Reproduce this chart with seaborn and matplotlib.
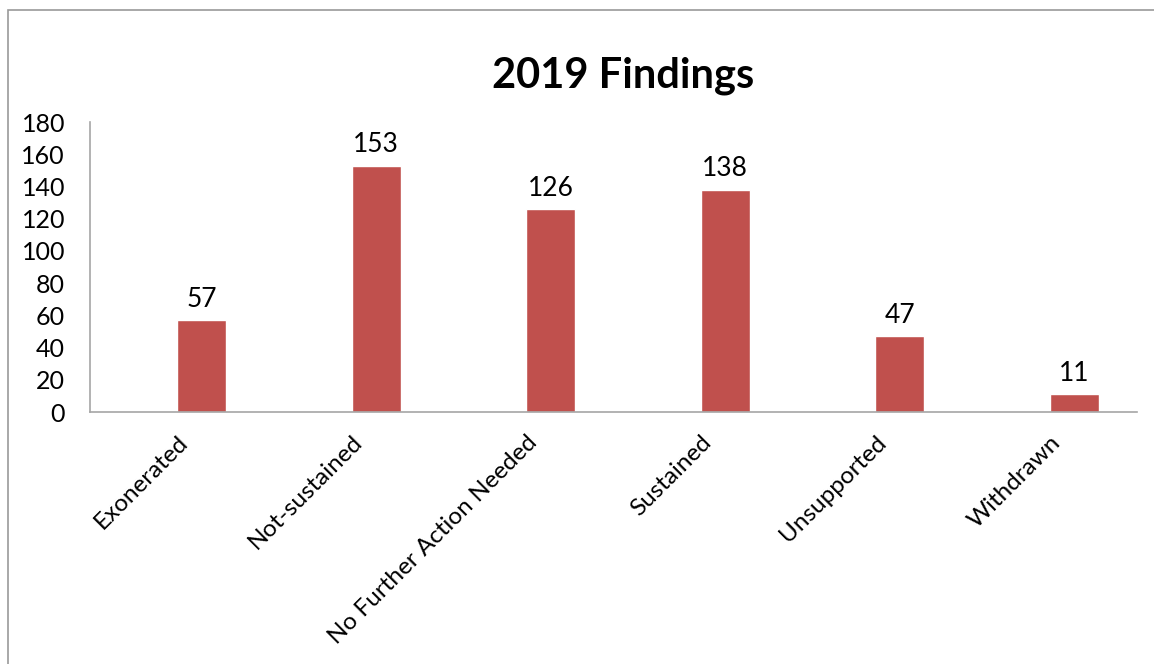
import matplotlib
matplotlib.use("Agg")
import matplotlib.pyplot as plt
from matplotlib.patches import Rectangle
import pandas as pd
import seaborn as sns

# Chart data
categories = ["Exonerated", "Not-sustained", "No Further Action Needed",
              "Sustained", "Unsupported", "Withdrawn"]
counts = [57, 153, 126, 138, 47, 11]
series_name = "2019"
y_ticks = [0, 20, 40, 60, 80, 100, 120, 140, 160, 180]

sns.set_style("white")
plt.rcParams['font.family'] = ['Lato', 'DejaVu Sans']
plt.rcParams['text.color'] = 'black'

bar_color = "#C0504D"
axis_gray = "#A6A6A6"

df = pd.DataFrame({"Finding": categories, "Count": counts, "Series": series_name})

fig = plt.figure(figsize=(11.54, 6.64), dpi=100)
ax = fig.add_axes([90 / 1154, 1 - 412 / 664, (1137 - 90) / 1154, (412 - 122) / 664])

# Excel-style clustered layout: an empty first slot pushes the bar right of centre
sns.barplot(data=df, x="Finding", y="Count", hue="Series",
            hue_order=["", series_name], palette={"": bar_color, series_name: bar_color},
            width=0.56, dodge=True, legend=False, ax=ax, saturation=1)

for container in ax.containers:
    ax.bar_label(container, fmt="%d", padding=6, fontsize=19, color="black")

ax.set_ylim(0, 180)
ax.set_yticks(y_ticks)
ax.set_xlim(-0.5, len(categories) - 0.5)
ax.set_xlabel("")
ax.set_ylabel("")
ax.tick_params(axis="both", length=0, colors="black")
ax.tick_params(axis="y", pad=18, labelsize=18)
ax.tick_params(axis="x", pad=14, labelsize=17.5)
plt.setp(ax.get_xticklabels(), rotation=45, ha="right", rotation_mode="anchor")

for side in ["top", "right"]:
    ax.spines[side].set_visible(False)
for side in ["left", "bottom"]:
    ax.spines[side].set_color(axis_gray)
    ax.spines[side].set_linewidth(1.2)

fig.text(623 / 1154, 1 - 76 / 664, "2019 Findings", ha="center", va="center",
         fontsize=30, fontweight="bold", color="black")

# chart-area border
fig.add_artist(Rectangle((8 / 1154, -0.1), 2, 1 - 10 / 664 + 0.1, transform=fig.transFigure,
                         fill=False, edgecolor="#9A9A9A", linewidth=1.2))

fig.savefig("out.png", dpi=100)
